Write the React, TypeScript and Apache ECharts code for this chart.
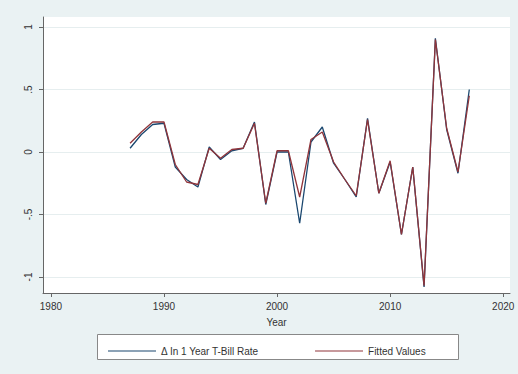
import React, { useEffect, useRef } from "react";
import * as echarts from "echarts";

const years = [1987, 1988, 1989, 1990, 1991, 1992, 1993, 1994, 1995, 1996, 1997, 1998, 1999, 2000, 2001, 2002, 2003, 2004, 2005, 2006, 2007, 2008, 2009, 2010, 2011, 2012, 2013, 2014, 2015, 2016, 2017];
const actual = [0.03, 0.14, 0.22, 0.23, -0.12, -0.22, -0.28, 0.04, -0.06, 0.01, 0.03, 0.24, -0.42, 0.0, 0.0, -0.57, 0.08, 0.2, -0.09, -0.22, -0.36, 0.27, -0.33, -0.08, -0.66, -0.12, -1.08, 0.91, 0.18, -0.17, 0.5];
const fitted = [0.07, 0.16, 0.24, 0.24, -0.1, -0.24, -0.26, 0.03, -0.05, 0.02, 0.03, 0.23, -0.41, 0.01, 0.01, -0.36, 0.1, 0.16, -0.08, -0.22, -0.35, 0.26, -0.33, -0.07, -0.66, -0.12, -1.07, 0.9, 0.19, -0.16, 0.45];
const xTicks = [1980, 1990, 2000, 2010, 2020];
const yTicks = [-1, -0.5, 0, 0.5, 1];
const seriesNames = ["Δ In 1 Year T-Bill Rate", "Fitted Values"];

const fmtY = (v: number) => {
  if (v === 0) return "0";
  const s = String(v);
  return s.replace(/^0\./, ".").replace(/^-0\./, "-.");
};

export default function App() {
  const ref = useRef<HTMLDivElement>(null);
  useEffect(() => {
    if (!ref.current) return;
    document.body.style.overflow = "hidden";
    const chart = echarts.init(ref.current, null, { renderer: "svg" });
    const font = "Liberation Sans, Arial, sans-serif";
    chart.setOption({
      animation: false,
      backgroundColor: "#eaf2f3",
      textStyle: { fontFamily: font },
      grid: {
        left: 43, right: 8, top: 17, bottom: 81,
        show: true, backgroundColor: "#ffffff", borderWidth: 0,
      },
      xAxis: {
        type: "value",
        min: 1979.3,
        max: 2020.6,
        name: "Year",
        nameLocation: "middle",
        nameGap: 24,
        nameTextStyle: { fontSize: 10, color: "#333", fontFamily: font },
        axisLine: { show: true, onZero: false, lineStyle: { color: "#666", width: 1 } },
        axisTick: { show: true, customValues: xTicks, length: 4, lineStyle: { color: "#666" } },
        axisLabel: {
          customValues: xTicks, margin: 8, fontSize: 10, color: "#333", fontFamily: font,
          formatter: (v: number) => String(v),
        },
        splitLine: { show: false },
      },
      yAxis: {
        type: "value",
        min: -1.128,
        max: 1.08,
        axisLine: { show: true, onZero: false, lineStyle: { color: "#666", width: 1 } },
        axisTick: { show: true, customValues: yTicks, length: 4, lineStyle: { color: "#666" } },
        axisLabel: {
          customValues: yTicks,
          rotate: 90,
          margin: 10,
          fontSize: 10,
          color: "#333",
          fontFamily: font,
          formatter: (v: number) => fmtY(v),
        },
        splitLine: { show: true, customValues: yTicks, lineStyle: { color: "#e6eeef", width: 1 } },
      },
      legend: {
        left: 103,
        top: 341,
        itemWidth: 48,
        itemHeight: 1,
        itemGap: 56,
        icon: "rect",
        textStyle: { fontSize: 10, color: "#333", fontFamily: font },
        data: seriesNames,
      },
      graphic: [
        {
          type: "rect",
          shape: { x: 97.5, y: 334.5, width: 361, height: 25 },
          style: { fill: "#ffffff", stroke: "#888", lineWidth: 1 },
          z: -1,
          silent: true,
        },
      ],
      series: [
        {
          name: seriesNames[0],
          type: "line",
          data: years.map((y, i) => [y, actual[i]]),
          symbol: "none",
          lineStyle: { color: "#1a476f", width: 1.3 },
          itemStyle: { color: "#1a476f" },
          z: 2,
        },
        {
          name: seriesNames[1],
          type: "line",
          data: years.map((y, i) => [y, fitted[i]]),
          symbol: "none",
          lineStyle: { color: "#90353b", width: 1.3 },
          itemStyle: { color: "#90353b" },
          z: 3,
        },
      ],
    });
    return () => chart.dispose();
  }, []);
  return <div ref={ref} style={{ position: "fixed", left: 0, top: 0, width: 518, height: 374 }} />;
}
